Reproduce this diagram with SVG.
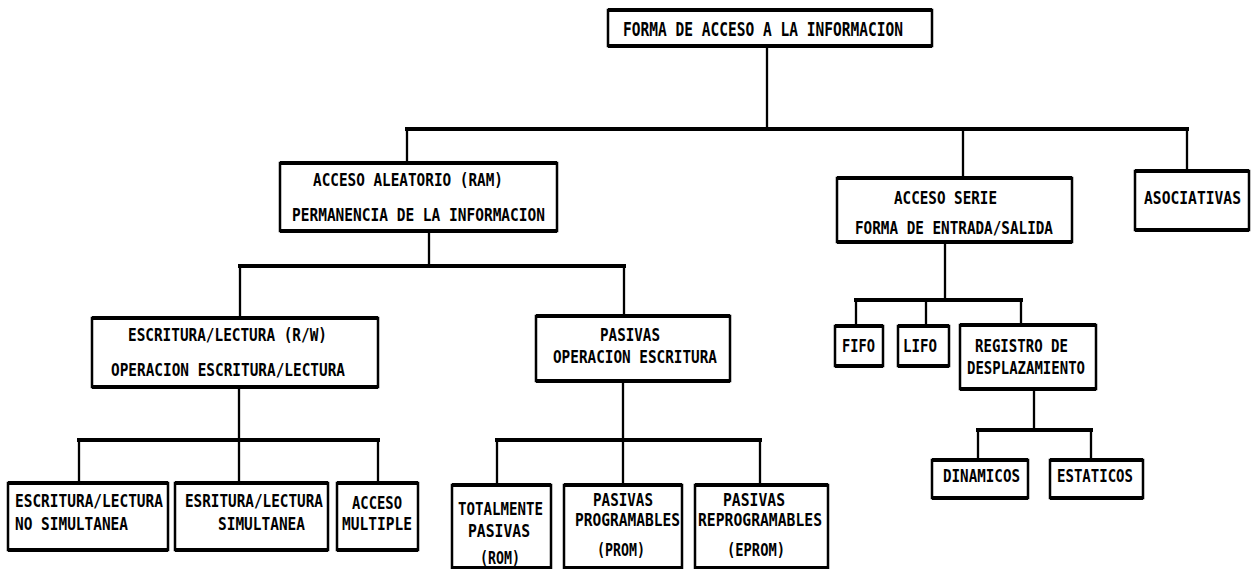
<svg xmlns="http://www.w3.org/2000/svg" width="1252" height="569" viewBox="0 0 1252 569">
  <style>
    .box { fill: #ffffff; stroke: #000000; stroke-width: 2.5; }
    .edge { fill: none; stroke: #000000; stroke-width: 4; }
    .lbl { font-family: "DejaVu Sans Mono", "Liberation Mono", monospace; font-size: 16px; font-weight: bold; fill: #000000;
           transform-box: fill-box; transform-origin: 0 100%; transform: scaleY(1.15); }
    .title { font-size: 17px; }
    .v { fill: none; stroke: #000000; stroke-width: 2.3; }
    .h { fill: none; stroke: #000000; stroke-width: 4; }
  </style>

  <!-- connectors -->
  <g id="connectors">
    <path class="v" d="M767 46V129 M407 129V163 M963 129V178 M1187 129V171"/>
    <path class="h" d="M405 129H1189"/>
    <path class="v" d="M429 231V266 M240 266V318 M624 266V316"/>
    <path class="h" d="M238 266H626"/>
    <path class="v" d="M239 387V440 M79 440V483 M239 440V483 M378 440V483"/>
    <path class="h" d="M77 440H380"/>
    <path class="v" d="M623 381V440 M497 440V485 M623 440V485 M760 440V485"/>
    <path class="h" d="M495 440H762"/>
    <path class="v" d="M945 242V300 M856 300V326 M926 300V326 M1021 300V325"/>
    <path class="h" d="M854 300H1023"/>
    <path class="v" d="M1034 389V430 M978 430V460 M1091 430V460"/>
    <path class="h" d="M976 430H1093"/>
  </g>

  <!-- root -->
  <g id="n-root">
    <rect class="box" x="608" y="10" width="324" height="36"/>
    <path class="edge" d="M608 10H932 M608 46H932"/>
    <text class="lbl title" x="623" y="37" textLength="280" lengthAdjust="spacingAndGlyphs">FORMA DE ACCESO A LA INFORMACION</text>
  </g>

  <!-- level 2 -->
  <g id="n-ram">
    <rect class="box" x="280" y="163" width="277" height="68"/>
    <path class="edge" d="M280 163H557 M280 231H557"/>
    <text class="lbl" x="313" y="187" textLength="190" lengthAdjust="spacingAndGlyphs">ACCESO ALEATORIO (RAM)</text>
    <text class="lbl" x="292" y="222" textLength="253" lengthAdjust="spacingAndGlyphs">PERMANENCIA DE LA INFORMACION</text>
  </g>

  <g id="n-serie">
    <rect class="box" x="837" y="178" width="235" height="64"/>
    <path class="edge" d="M837 178H1072 M837 242H1072"/>
    <text class="lbl" x="894" y="205" textLength="103" lengthAdjust="spacingAndGlyphs">ACCESO SERIE</text>
    <text class="lbl" x="855" y="235" textLength="198" lengthAdjust="spacingAndGlyphs">FORMA DE ENTRADA/SALIDA</text>
  </g>

  <g id="n-asoc">
    <rect class="box" x="1135" y="171" width="114" height="59"/>
    <path class="edge" d="M1135 171H1249 M1135 230H1249"/>
    <text class="lbl" x="1144" y="205" textLength="97" lengthAdjust="spacingAndGlyphs">ASOCIATIVAS</text>
  </g>

  <!-- level 3 -->
  <g id="n-rw">
    <rect class="box" x="92" y="318" width="286" height="69"/>
    <path class="edge" d="M92 318H378 M92 387H378"/>
    <text class="lbl" x="128" y="342" textLength="199" lengthAdjust="spacingAndGlyphs">ESCRITURA/LECTURA (R/W)</text>
    <text class="lbl" x="111" y="377" textLength="234" lengthAdjust="spacingAndGlyphs">OPERACION ESCRITURA/LECTURA</text>
  </g>

  <g id="n-pasivas">
    <rect class="box" x="536" y="316" width="194" height="65"/>
    <path class="edge" d="M536 316H730 M536 381H730"/>
    <text class="lbl" x="600" y="342" textLength="60" lengthAdjust="spacingAndGlyphs">PASIVAS</text>
    <text class="lbl" x="553" y="364" textLength="164" lengthAdjust="spacingAndGlyphs">OPERACION ESCRITURA</text>
  </g>

  <g id="n-fifo">
    <rect class="box" x="835" y="326" width="48" height="40"/>
    <path class="edge" d="M835 326H883 M835 366H883"/>
    <text class="lbl" x="842" y="353" textLength="33" lengthAdjust="spacingAndGlyphs">FIFO</text>
  </g>

  <g id="n-lifo">
    <rect class="box" x="898" y="326" width="51" height="40"/>
    <path class="edge" d="M898 326H949 M898 366H949"/>
    <text class="lbl" x="903" y="353" textLength="34" lengthAdjust="spacingAndGlyphs">LIFO</text>
  </g>

  <g id="n-registro">
    <rect class="box" x="960" y="325" width="136" height="64"/>
    <path class="edge" d="M960 325H1096 M960 389H1096"/>
    <text class="lbl" x="975" y="353" textLength="93" lengthAdjust="spacingAndGlyphs">REGISTRO DE</text>
    <text class="lbl" x="967" y="375" textLength="118" lengthAdjust="spacingAndGlyphs">DESPLAZAMIENTO</text>
  </g>

  <!-- level 4 -->
  <g id="n-nosim">
    <rect class="box" x="8" y="483" width="160" height="67"/>
    <path class="edge" d="M8 483H168 M8 550H168"/>
    <text class="lbl" x="15" y="508" textLength="148" lengthAdjust="spacingAndGlyphs">ESCRITURA/LECTURA</text>
    <text class="lbl" x="15" y="531" textLength="113" lengthAdjust="spacingAndGlyphs">NO SIMULTANEA</text>
  </g>

  <g id="n-sim">
    <rect class="box" x="175" y="483" width="153" height="67"/>
    <path class="edge" d="M175 483H328 M175 550H328"/>
    <text class="lbl" x="185" y="508" textLength="138" lengthAdjust="spacingAndGlyphs">ESRITURA/LECTURA</text>
    <text class="lbl" x="218" y="531" textLength="87" lengthAdjust="spacingAndGlyphs">SIMULTANEA</text>
  </g>

  <g id="n-multiple">
    <rect class="box" x="337" y="483" width="81" height="67"/>
    <path class="edge" d="M337 483H418 M337 550H418"/>
    <text class="lbl" x="352" y="510" textLength="50" lengthAdjust="spacingAndGlyphs">ACCESO</text>
    <text class="lbl" x="342" y="531" textLength="70" lengthAdjust="spacingAndGlyphs">MULTIPLE</text>
  </g>

  <g id="n-rom">
    <rect class="box" x="452" y="485" width="99" height="83"/>
    <path class="edge" d="M452 485H551 M452 568H551"/>
    <text class="lbl" x="458" y="516" textLength="85" lengthAdjust="spacingAndGlyphs">TOTALMENTE</text>
    <text class="lbl" x="468" y="538" textLength="62" lengthAdjust="spacingAndGlyphs">PASIVAS</text>
    <text class="lbl" x="480" y="565" textLength="40" lengthAdjust="spacingAndGlyphs">(ROM)</text>
  </g>

  <g id="n-prom">
    <rect class="box" x="564" y="485" width="118" height="83"/>
    <path class="edge" d="M564 485H682 M564 568H682"/>
    <text class="lbl" x="593" y="507" textLength="60" lengthAdjust="spacingAndGlyphs">PASIVAS</text>
    <text class="lbl" x="575" y="527" textLength="105" lengthAdjust="spacingAndGlyphs">PROGRAMABLES</text>
    <text class="lbl" x="597" y="557" textLength="48" lengthAdjust="spacingAndGlyphs">(PROM)</text>
  </g>

  <g id="n-eprom">
    <rect class="box" x="695" y="485" width="133" height="83"/>
    <path class="edge" d="M695 485H828 M695 568H828"/>
    <text class="lbl" x="723" y="507" textLength="62" lengthAdjust="spacingAndGlyphs">PASIVAS</text>
    <text class="lbl" x="698" y="527" textLength="124" lengthAdjust="spacingAndGlyphs">REPROGRAMABLES</text>
    <text class="lbl" x="727" y="557" textLength="58" lengthAdjust="spacingAndGlyphs">(EPROM)</text>
  </g>

  <g id="n-dinamicos">
    <rect class="box" x="932" y="460" width="96" height="38"/>
    <path class="edge" d="M932 460H1028 M932 498H1028"/>
    <text class="lbl" x="943" y="483" textLength="77" lengthAdjust="spacingAndGlyphs">DINAMICOS</text>
  </g>

  <g id="n-estaticos">
    <rect class="box" x="1050" y="460" width="93" height="38"/>
    <path class="edge" d="M1050 460H1143 M1050 498H1143"/>
    <text class="lbl" x="1057" y="483" textLength="76" lengthAdjust="spacingAndGlyphs">ESTATICOS</text>
  </g>
</svg>
